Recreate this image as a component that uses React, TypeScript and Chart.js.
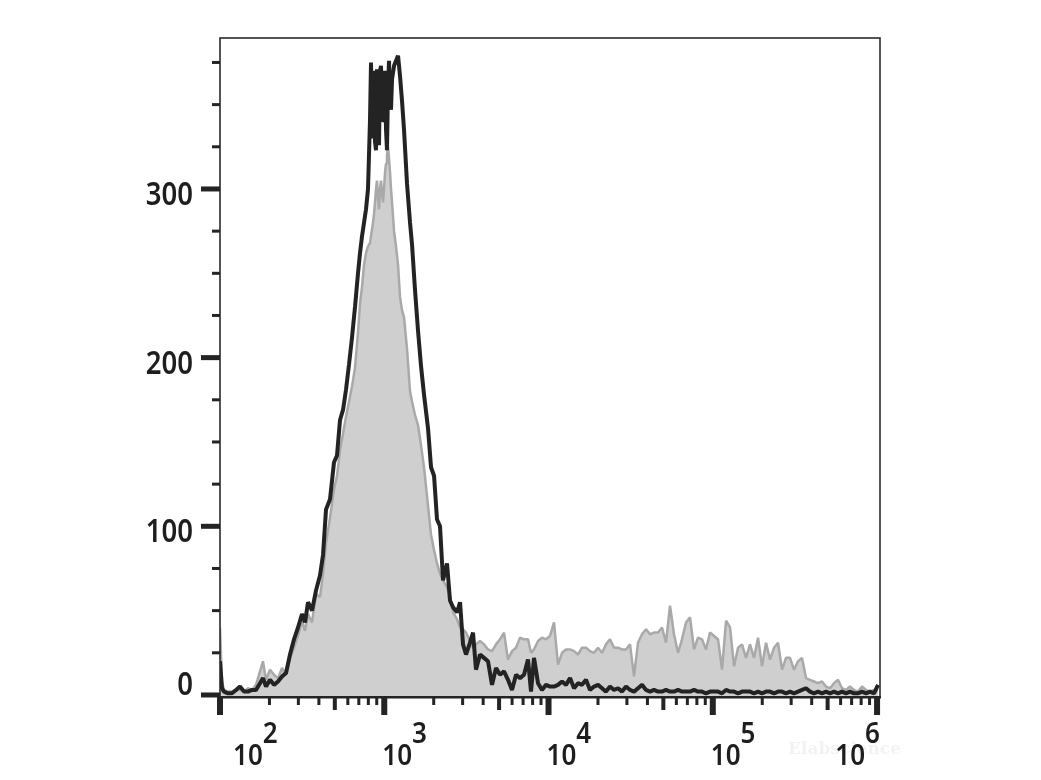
import React, { useEffect, useRef } from "react";
import { Chart, registerables } from "chart.js";

Chart.register(...registerables);

// Fluorescence channel (bin positions, log axis)
const channels = [
  100, 102.8, 105.8, 111.9, 118.3, 125.2, 132.3, 140, 148.1, 156.6,
  165.7, 175.2, 182.7, 190.6, 201.6, 213.2, 225.5, 238.5, 252.3, 266.8,
  282.2, 298.5, 315.7, 329.3, 343.4, 363.3, 384.2, 406.4, 423.8, 442,
  467.4, 494.4, 515.6, 537.8, 560.9, 584.9, 610.1, 636.3, 663.6, 692.1,
  711.8, 732, 752.8, 774.2, 796.2, 818.9, 830.4, 842.1, 854, 866.1,
  878.3, 890.7, 903.3, 916.1, 929, 942.2, 955.5, 969, 982.6, 996.5,
  1011, 1025, 1039, 1054, 1069, 1084, 1099, 1115, 1147, 1179,
  1213, 1247, 1283, 1319, 1376, 1435, 1476, 1539, 1605, 1674,
  1746, 1847, 1926, 2009, 2095, 2185, 2279, 2410, 2513, 2621,
  2773, 2892, 3016, 3145, 3327, 3470, 3618, 3827, 4048, 4281,
  4528, 4789, 5065, 5358, 5666, 5993, 6339, 6704, 7091, 7500,
  7822, 8158, 8629, 9126, 9652, 10210, 10800, 11420, 12080, 12780,
  13520, 14300, 15120, 15990, 16910, 17890, 18920, 20010, 21170, 22390,
  23680, 25040, 26490, 28010, 29630, 31340, 33150, 35060, 37080, 39220,
  41480, 43870, 46400, 49070, 51900, 54900, 58060, 61410, 64950, 68690,
  72700, 76850, 81270, 85960, 90920, 96160, 101800, 107600, 113800, 120400,
  127400, 134700, 142500, 150700, 159300, 168500, 178300, 188500, 199400, 210900,
  223000, 235900, 249500, 263900, 279100, 295200, 312200, 330200, 349300, 369400,
  390700, 413200, 437000, 462300, 488900, 517100, 546900, 578400, 611800, 647100,
  684400, 723800, 765600, 809700, 856400, 905800, 958100, 1014000,
];

// Black outline histogram (stained sample)
const stainedCounts = [
  20, 4, 2, 1, 1, 3, 5, 2, 2, 3,
  3, 7, 10, 5, 9, 6, 8, 11, 13, 24,
  33, 40, 48, 43, 55, 50, 62, 71, 83, 110,
  116, 138, 142, 163, 169, 181, 196, 212, 230, 250,
  262, 272, 280, 288, 300, 341, 375, 330, 360, 370,
  328, 323, 371, 340, 326, 370, 373, 340, 341, 365,
  370, 335, 323, 360, 376, 350, 347, 365, 373, 376,
  379, 367, 352, 335, 303, 280, 267, 240, 216, 195,
  178, 158, 135, 130, 104, 100, 68, 78, 56, 52,
  49, 55, 30, 24, 31, 37, 15, 24, 22, 20,
  6, 16, 12, 14, 9, 3, 12, 10, 12, 21,
  2, 22, 7, 3, 6, 5, 5, 6, 8, 6,
  10, 4, 7, 6, 9, 3, 5, 6, 4, 2,
  5, 3, 4, 2, 5, 3, 2, 4, 6, 3,
  2, 3, 2, 2, 3, 2, 2, 3, 2, 2,
  2, 3, 2, 2, 1, 2, 2, 2, 1, 3,
  2, 2, 1, 2, 2, 2, 1, 2, 1, 2,
  2, 1, 2, 2, 1, 2, 1, 2, 3, 4,
  2, 1, 2, 1, 2, 1, 2, 1, 2, 1,
  2, 1, 1, 2, 1, 2, 1, 6,
];

// Grey filled histogram (control)
const controlCounts = [
  40, 8, 3, 2, 2, 3, 3, 2, 4, 3,
  6, 14, 20, 9, 15, 12, 10, 16, 12, 22,
  28, 35, 44, 38, 48, 43, 60, 58, 72, 90,
  105, 122, 130, 145, 155, 165, 174, 183, 194, 215,
  232, 242, 255, 262, 266, 268, 272, 276, 280, 285,
  292, 300, 305, 295, 288, 300, 305, 298, 292, 300,
  310, 315, 320, 325, 318, 310, 300, 292, 275, 266,
  255, 236, 228, 224, 205, 180, 174, 166, 160, 148,
  135, 112, 95, 86, 78, 72, 68, 64, 58, 49,
  45, 40, 39, 37, 32, 28, 30, 32, 30, 27,
  26, 30, 33, 37, 21, 26, 28, 34, 33, 33,
  25, 27, 32, 34, 33, 35, 43, 18, 25, 27,
  27, 26, 24, 28, 28, 26, 25, 28, 25, 30,
  33, 28, 28, 27, 27, 30, 11, 31, 36, 39,
  36, 37, 37, 40, 31, 53, 36, 25, 33, 43,
  46, 27, 34, 33, 27, 37, 35, 33, 15, 44,
  40, 17, 28, 30, 22, 30, 22, 34, 17, 31,
  21, 28, 31, 15, 22, 22, 15, 20, 22, 10,
  9, 8, 7, 8, 5, 4, 7, 9, 4, 3,
  5, 3, 2, 5, 3, 2, 3, 3,
];

const yMajorTicks = [0, 100, 200, 300];
const yMinorTicks = [25, 50, 75, 125, 150, 175, 225, 250, 275, 325, 350, 375];
const xDecadeExponents = [2, 3, 4, 5, 6];
const xMinorMultipliers = [2, 3, 4, 5, 6, 7, 8, 9];
const watermarkText = "Elabscience";

const INK = "#242424";
const LABEL_FONT = '"Noto Sans", "Open Sans", sans-serif';

// draw text horizontally condensed by factor sx, anchored at (x, y)
function drawText(ctx: CanvasRenderingContext2D, text: string, x: number, y: number, sx: number) {
  ctx.save();
  ctx.translate(x, y);
  ctx.scale(sx, 1);
  ctx.fillText(text, 0, 0);
  ctx.restore();
}

const axesPlugin = {
  id: "flowAxes",
  afterDraw(chart: any) {
    const { ctx, chartArea: a } = chart;
    const x = chart.scales.x;
    const y = chart.scales.y;
    ctx.save();

    // frame
    ctx.strokeStyle = "#2a2a2a";
    ctx.lineWidth = 1.6;
    ctx.strokeRect(a.left, a.top, a.right - a.left, a.bottom - a.top);
    ctx.fillStyle = INK;
    ctx.fillRect(a.left - 1, a.bottom - 1, a.right - a.left + 2, 2.5);

    // y ticks
    for (const v of yMinorTicks) {
      const py = y.getPixelForValue(v);
      ctx.fillRect(a.left - 8, py - 1.5, 8, 3);
    }
    for (const v of yMajorTicks) {
      const py = y.getPixelForValue(v);
      ctx.fillRect(a.left - 19, py - 2.5, 19, 5);
    }

    // x ticks
    for (let i = 0; i < xDecadeExponents.length - 1; i++) {
      const base = Math.pow(10, xDecadeExponents[i]);
      for (const m of xMinorMultipliers) {
        const px = x.getPixelForValue(m * base);
        const len = m === 5 ? 13 : 8;
        const w = m === 5 ? 4 : 3;
        ctx.fillRect(px - w / 2, a.bottom, w, len);
      }
    }
    for (const e of xDecadeExponents) {
      const px = Math.min(x.getPixelForValue(Math.pow(10, e)), a.right - 1);
      ctx.fillRect(px - 3, a.bottom, 6, 18);
    }

    // y labels (right aligned, condensed)
    ctx.fillStyle = "#1e1e1e";
    ctx.font = "600 32px " + LABEL_FONT;
    ctx.textAlign = "right";
    ctx.textBaseline = "alphabetic";
    for (const v of yMajorTicks) {
      const py = y.getPixelForValue(v);
      drawText(ctx, String(v), a.left - 27, Math.min(py + 16, a.bottom - 2), 0.86);
    }

    // x labels: 10 with superscript exponent
    const sxX = 0.93;
    ctx.font = "600 28px " + LABEL_FONT;
    ctx.textAlign = "left";
    for (const e of xDecadeExponents) {
      const px = x.getPixelForValue(Math.pow(10, e));
      const baseW = ctx.measureText("10").width * sxX;
      const expW = ctx.measureText(String(e)).width * sxX;
      let left = px - 2;
      left = Math.max(left, a.left + 13);
      left = Math.min(left, a.right - baseW - expW);
      drawText(ctx, "10", left, a.bottom + 68, sxX);
      drawText(ctx, String(e), left + baseW, a.bottom + 46, sxX);
    }

    // faint watermark
    ctx.font = 'bold 17px "DejaVu Serif", serif';
    ctx.fillStyle = "rgba(0,0,0,0.05)";
    ctx.textAlign = "left";
    ctx.fillText(watermarkText, a.right - 92, a.bottom + 57);

    ctx.restore();
  },
};

export default function App() {
  const canvasRef = useRef<HTMLCanvasElement | null>(null);

  useEffect(() => {
    const canvas = canvasRef.current;
    if (!canvas) return;
    const stained = channels.map((c, i) => ({ x: c, y: stainedCounts[i] }));
    const control = channels.map((c, i) => ({ x: c, y: controlCounts[i] }));
    const chart = new Chart(canvas, {
      type: "line",
      data: {
        datasets: [
          {
            label: "Stained",
            data: stained,
            borderColor: "#232323",
            borderWidth: 4,
            borderJoinStyle: "bevel",
            pointRadius: 0,
            fill: false,
            tension: 0,
            order: 0,
          },
          {
            label: "Control",
            data: control,
            borderColor: "#a9a9a9",
            backgroundColor: "#cfcfcf",
            borderWidth: 2.5,
            borderJoinStyle: "bevel",
            pointRadius: 0,
            fill: "start",
            tension: 0,
            order: 1,
          },
        ],
      },
      options: {
        responsive: false,
        animation: false,
        devicePixelRatio: 1,
        layout: { padding: { left: 220, right: 161, top: 38, bottom: 83 } },
        plugins: {
          legend: { display: false },
          tooltip: { enabled: false },
        },
        scales: {
          x: { type: "logarithmic", min: 100, max: 1042000, display: false },
          y: { type: "linear", min: -1.2, max: 389.5, display: false },
        },
      },
      plugins: [axesPlugin],
    } as any);
    return () => chart.destroy();
  }, []);

  return (
    <div style={{ position: "absolute", left: 0, top: 0, width: 1041, height: 780, background: "#fff" }}>
      <canvas ref={canvasRef} width={1041} height={780} style={{ display: "block" }} />
    </div>
  );
}
